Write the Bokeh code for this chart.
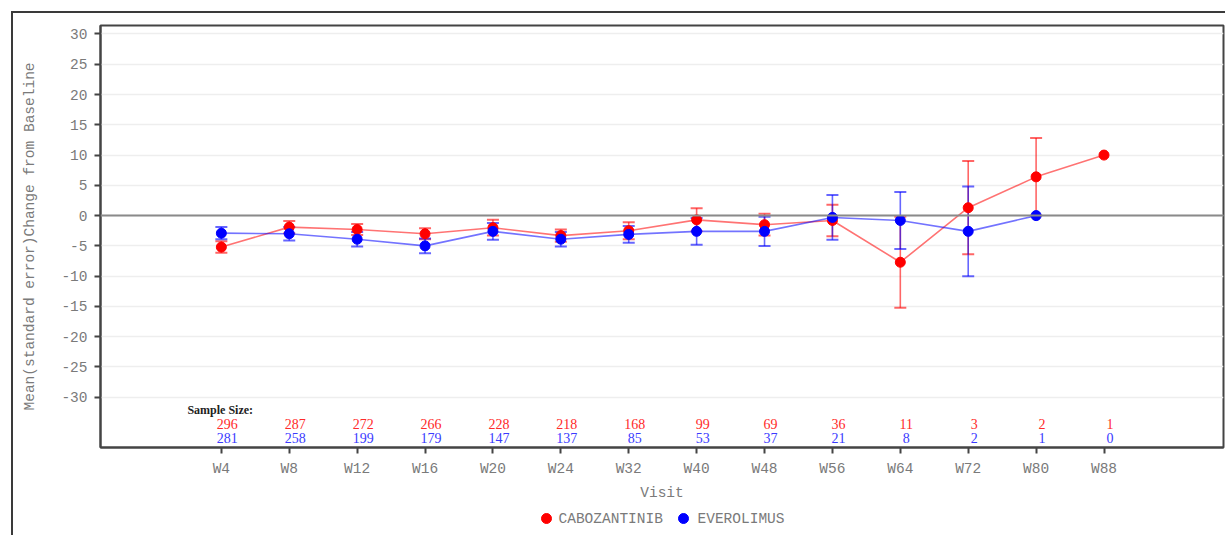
from bokeh.plotting import figure
from bokeh.layouts import column
from bokeh.models import (ColumnDataSource, Whisker, TeeHead, FixedTicker, Span, Label,
                          Range1d)
from bokeh.core.properties import value
from bokeh.embed import file_html
from bokeh.resources import INLINE

# Visits and per-arm summary statistics (mean change from baseline, standard error)
visits = ["W4", "W8", "W12", "W16", "W20", "W24", "W32", "W40", "W48", "W56",
          "W64", "W72", "W80", "W88"]
cabo_mean = [-5.2, -1.9, -2.3, -3.0, -2.0, -3.3, -2.5, -0.7, -1.5, -0.8, -7.7, 1.3, 6.4, 10.0]
cabo_se = [0.95, 1.0, 0.9, 0.9, 1.3, 1.0, 1.4, 1.9, 1.8, 2.6, 7.5, 7.7, 6.4, None]
evero_mean = [-2.9, -3.0, -3.9, -5.0, -2.6, -3.9, -3.1, -2.6, -2.6, -0.3, -0.8, -2.6, 0.0]
evero_se = [1.0, 1.1, 1.2, 1.2, 1.4, 1.2, 1.4, 2.2, 2.4, 3.7, 4.7, 7.4, None]
cabo_n = [296, 287, 272, 266, 228, 218, 168, 99, 69, 36, 11, 3, 2, 1]
evero_n = [281, 258, 199, 179, 147, 137, 85, 53, 37, 21, 8, 2, 1, 0]
arms = ["CABOZANTINIB", "EVEROLIMUS"]
y_ticks = list(range(-30, 31, 5))

RED = "#ff0000"
BLUE = "#0000ff"
MONO = "Liberation Mono"
SERIF = "Liberation Serif"
GRAY_TXT = "#7a7a7a"
AXIS = "#444444"
WIDTH = 1212

idx = list(range(len(visits)))


def series(mean, se):
    xs = idx[:len(mean)]
    pts = ColumnDataSource(dict(x=xs, y=mean))
    ex, lo, hi = [], [], []
    for x, m, s in zip(xs, mean, se):
        if s is not None:
            ex.append(x)
            lo.append(m - s)
            hi.append(m + s)
    err = ColumnDataSource(dict(x=ex, lower=lo, upper=hi))
    return pts, err


p = figure(width=WIDTH, height=492, output_backend="svg", toolbar_location=None,
           x_range=(-1.78, 14.76), y_range=(-38.3, 31.4),
           min_border_left=87, min_border_top=12, min_border_right=2, min_border_bottom=58)
p.outline_line_color = AXIS
p.outline_line_width = 2
p.background_fill_color = "white"
p.border_fill_color = "white"

# grid and axes
p.xgrid.visible = False
p.ygrid.ticker = FixedTicker(ticks=y_ticks)
p.ygrid.grid_line_color = "#eeeeee"
p.ygrid.grid_line_width = 1.5

p.yaxis.ticker = FixedTicker(ticks=y_ticks)
p.yaxis.major_label_overrides = {t: str(t) for t in y_ticks}
p.xaxis.ticker = FixedTicker(ticks=idx)
p.xaxis.major_label_overrides = {i: v for i, v in zip(idx, visits)}
for ax in (p.xaxis, p.yaxis):
    ax.axis_line_color = AXIS
    ax.axis_line_width = 2
    ax.major_tick_line_color = AXIS
    ax.major_tick_line_width = 2
    ax.major_tick_out = 6
    ax.major_tick_in = 0
    ax.minor_tick_line_color = None
    ax.major_label_text_font = MONO
    ax.major_label_text_font_size = "14.5px"
    ax.major_label_text_color = GRAY_TXT
    ax.axis_label_text_font = MONO
    ax.axis_label_text_font_size = "14.5px"
    ax.axis_label_text_color = GRAY_TXT
    ax.axis_label_text_font_style = "normal"
p.xaxis.axis_label = "Visit"
p.xaxis.major_label_standoff = 7
p.xaxis.axis_label_standoff = 5
p.yaxis.axis_label = "Mean(standard error)Change from Baseline"
p.yaxis.major_label_standoff = 7
p.yaxis.axis_label_standoff = 20

# zero reference line
p.add_layout(Span(location=0, dimension="width", line_color="#8a8a8a", line_width=2))

for name, mean, se, col in ((arms[0], cabo_mean, cabo_se, RED),
                            (arms[1], evero_mean, evero_se, BLUE)):
    pts, err = series(mean, se)
    p.line("x", "y", source=pts, line_color=col, line_alpha=0.55, line_width=1.6)
    head = dict(size=12, line_color=col, line_alpha=0.6, line_width=2)
    w = Whisker(source=err, base="x", lower="lower", upper="upper",
                line_color=col, line_alpha=0.6, line_width=1.6,
                upper_head=TeeHead(**head), lower_head=TeeHead(**head))
    p.add_layout(w)
    p.scatter("x", "y", source=pts, size=10, fill_color=col, line_color=col)

# sample size table inside the plot area
SAMPLE_Y_TITLE = -32.1
SAMPLE_Y_CABO = -34.4
SAMPLE_Y_EVERO = -36.7
p.add_layout(Label(x=-0.5, y=SAMPLE_Y_TITLE, text="Sample Size:", text_font=SERIF,
                   text_font_size="12px", text_font_style="bold", text_color="#222222",
                   text_baseline="middle", text_align="left"))
p.text(x=idx, y=[SAMPLE_Y_CABO] * len(idx), text=[str(n) for n in cabo_n],
       text_font=value(SERIF), text_font_size="14px", text_color="#ff2a2a",
       text_align="center", text_baseline="middle", x_offset=6)
p.text(x=idx, y=[SAMPLE_Y_EVERO] * len(idx), text=[str(n) for n in evero_n],
       text_font=value(SERIF), text_font_size="14px", text_color="#3a3aff",
       text_align="center", text_baseline="middle", x_offset=6)

# legend strip under the chart; its frame lines up with the chart frame,
# so the x range is expressed in page pixels (frame spans 100..1223)
LEG_H = 30
leg_fig = figure(width=WIDTH, height=LEG_H, output_backend="svg", toolbar_location=None,
                 x_axis_type=None, y_axis_type=None, min_border=0,
                 x_range=Range1d(100, 1223), y_range=Range1d(0, LEG_H))
leg_fig.outline_line_color = None
leg_fig.border_fill_color = "white"
leg_fig.background_fill_color = "white"
dot_x = [546, 683]
label_x = [558, 697]
leg_y = [17, 17]
leg_fig.scatter(x=dot_x, y=leg_y, size=10, fill_color=[RED, BLUE], line_color=[RED, BLUE])
leg_fig.text(x=label_x, y=leg_y, text=arms,
             text_font=value(MONO), text_font_size="14.5px", text_color=GRAY_TXT,
             text_align="left", text_baseline="middle")

page = column(p, leg_fig, spacing=0)
page.margin = (11, 0, 0, 11)
page.styles = {"border-left": "2px solid #3a3a3a", "border-top": "2px solid #3a3a3a"}

open("out.html", "w").write(file_html(page, INLINE))
